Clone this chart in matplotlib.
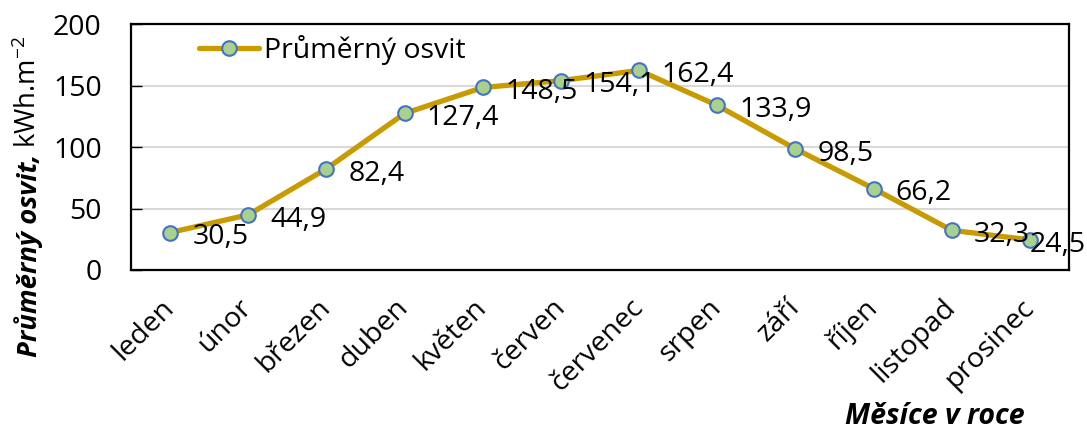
import matplotlib
matplotlib.use("Agg")
import matplotlib.pyplot as plt
import numpy as np

# data
months = ["leden", "únor", "březen", "duben", "květen", "červen",
          "červenec", "srpen", "září", "říjen", "listopad", "prosinec"]
osvit = [30.5, 44.9, 82.4, 127.4, 148.5, 154.1,
         162.4, 133.9, 98.5, 66.2, 32.3, 24.5]

plt.rcParams['font.family'] = ['Open Sans', 'DejaVu Sans']
plt.rcParams['mathtext.fontset'] = 'custom'
plt.rcParams['mathtext.rm'] = 'Open Sans'
fs = 20.5

fig = plt.figure(figsize=(10.87, 4.32), dpi=100)
ax = fig.add_axes([0.1205, 0.375, 0.863, 0.569])

x = np.arange(len(months))
ax.plot(x, osvit, color="#C89B00", lw=3.8, marker="o", ms=10.5,
        mfc="#A9D18E", mec="#4472C4", mew=1.5, label="Průměrný osvit",
        solid_capstyle="round", zorder=3)

for i, (xi, v) in enumerate(zip(x, osvit)):
    # last label is pushed back inside like in excel
    dx = 16 if i < len(osvit) - 1 else 0
    ax.annotate(f"{v:.1f}".replace(".", ","), (xi, v), xytext=(dx, -8.5),
                textcoords="offset points", ha="left", va="baseline",
                fontsize=fs, zorder=4, annotation_clip=False)

ax.set_xlim(-0.5, len(months) - 0.5)
ax.set_ylim(0, 200)
ax.set_yticks([0, 50, 100, 150, 200])
ax.set_xticks(x)
ax.set_xticklabels(months, rotation=45, ha="right", va="center",
                   rotation_mode="anchor")
ax.tick_params(axis="y", direction="in", length=8, width=1, labelsize=fs, pad=21)
ax.tick_params(axis="x", length=0, labelsize=fs, pad=24)
ax.grid(axis="y", color="#D9D9D9", lw=1.5)
ax.set_axisbelow(True)
for s in ax.spines.values():
    s.set_linewidth(1.6)

ax.legend(loc="upper left", bbox_to_anchor=(0.045, 1.06), frameon=False,
          fontsize=fs, handlelength=2.1, handletextpad=0.2)

# y label: bold italic part + normal units
yfs = 19.7
t1 = fig.text(0.026, 0.174, "Průměrný osvit,", rotation=90, ha="center",
              va="bottom", fontsize=yfs, fontweight="bold", style="italic")
fig.canvas.draw()
bb = t1.get_window_extent()
H = fig.bbox.height
fig.text(0.026, (bb.y1 + 6) / H, r"kWh.m$^{\mathregular{-2}}$", rotation=90,
         ha="center", va="bottom", fontsize=yfs)

fig.text(0.943, 0.036, "Měsíce v roce", ha="right", va="center",
         fontsize=fs, fontweight="bold", style="italic")

fig.savefig("out.png", dpi=100)
